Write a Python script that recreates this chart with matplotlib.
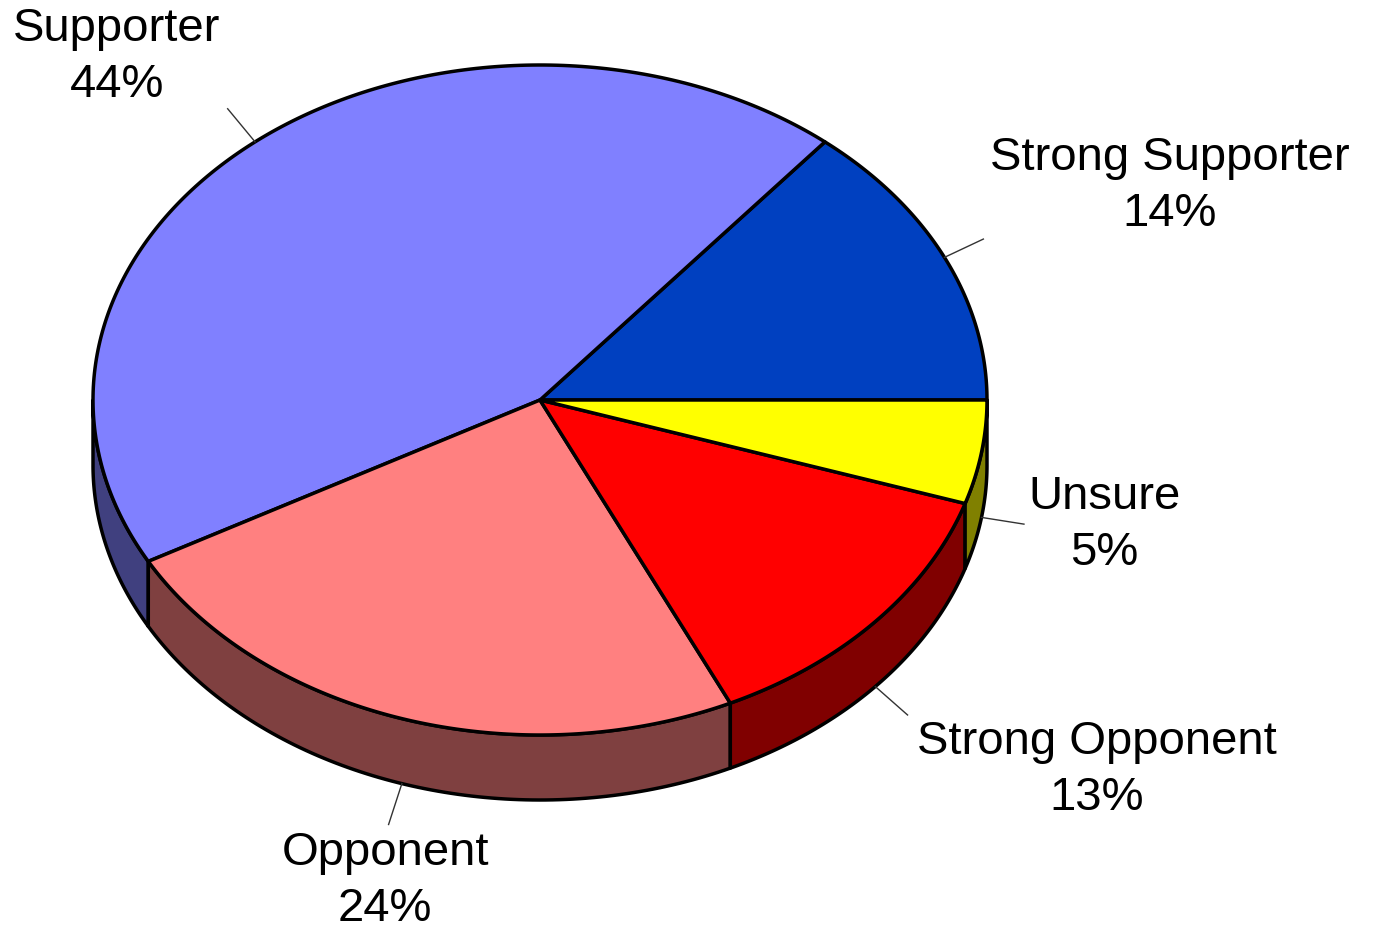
import numpy as np
import matplotlib
matplotlib.use("Agg")
import matplotlib.pyplot as plt
from matplotlib.patches import Polygon

# data
labels = ["Strong Supporter", "Supporter", "Opponent", "Strong Opponent", "Unsure"]
shares = [14, 44, 24, 13, 5]
top_colors = ["#0040C0", "#8080FF", "#FF8080", "#FF0000", "#FFFF00"]
side_colors = ["#002060", "#40407F", "#7F4040", "#800000", "#808000"]

# layout (pixels)
W, H = 1373, 930
cx, cy = 540, 400
rx, ry = 447, 335
depth = 65
label_pos = [(1170, 186), (117, 57), (385, 881), (1097, 770), (1104, 525)]


def edge(t, dz=0):
    t = np.radians(t)
    return cx + rx * np.cos(t), cy - ry * np.sin(t) + dz


fig = plt.figure(figsize=(W / 100, H / 100), dpi=100)
ax = fig.add_axes([0, 0, 1, 1])
ax.set_xlim(0, W)
ax.set_ylim(H, 0)
ax.axis("off")

total = sum(shares)
bounds = np.concatenate([[0], np.cumsum(shares) / total * 360])

# side walls (front half only)
for i in range(len(shares)):
    a0, a1 = max(bounds[i], 180), min(bounds[i + 1], 360)
    if a1 <= a0:
        continue
    t = np.linspace(a0, a1, 100)
    xs, ys = edge(t)
    pts = np.column_stack([np.r_[xs, xs[::-1]], np.r_[ys, ys[::-1] + depth]])
    ax.add_patch(Polygon(pts, closed=True, facecolor=side_colors[i],
                         edgecolor="black", lw=2.5, joinstyle="round", zorder=1))

# top face
for i in range(len(shares)):
    t = np.linspace(bounds[i], bounds[i + 1], 200)
    xs, ys = edge(t)
    pts = np.column_stack([np.r_[cx, xs], np.r_[cy, ys]])
    ax.add_patch(Polygon(pts, closed=True, facecolor=top_colors[i],
                         edgecolor="black", lw=2.5, joinstyle="round", zorder=2))

# leader lines and labels
for i, lab in enumerate(labels):
    mid = (bounds[i] + bounds[i + 1]) / 2
    dz = depth if 180 < mid < 360 else 0
    x0, y0 = edge(mid, dz)
    d = np.array([np.cos(np.radians(mid)), -np.sin(np.radians(mid))])
    x1, y1 = x0 + 43 * d[0], y0 + 43 * d[1]
    ax.plot([x0, x1], [y0, y1], color="#333333", lw=1, zorder=3)
    lx, ly = label_pos[i]
    ax.text(lx, ly, f"{lab}\n{shares[i]}%", ha="center", va="center",
            fontsize=34, family="Liberation Sans", linespacing=1.35, zorder=4)

fig.savefig("out.png", dpi=100)
